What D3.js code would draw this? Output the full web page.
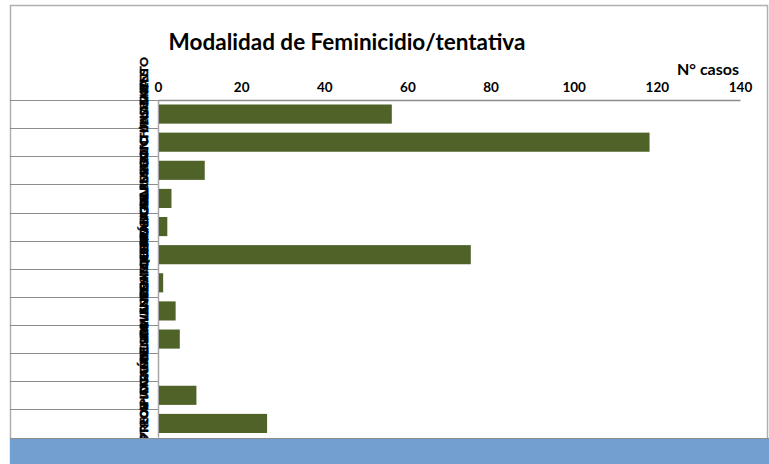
<!DOCTYPE html>
<html>
<head>
<meta charset="utf-8">
<script src="https://cdn.jsdelivr.net/npm/d3@7"></script>
<style>
  html, body { margin: 0; padding: 0; background: #ffffff; }
  svg { display: block; }
  text { font-family: Lato, "Open Sans", sans-serif; }
</style>
</head>
<body>
<svg id="chart" width="769" height="464"></svg>
<script>
const categories = [
  "ACUCHILLAMIENTO",
  "GOLPES CONTUNDENTES",
  "ESTRANGULAMIENTO / ASFIXIA",
  "ARMA DE FUEGO",
  "QUEMADURAS",
  "AGRESIONES FÍSICAS",
  "ENVENENAMIENTO",
  "DEGOLLAMIENTO",
  "ATROPELLAMIENTO",
  "AHOGAMIENTO",
  "PRECIPITACIÓN",
  "OTROS"
];
const casos = [56, 118, 11, 3, 2, 75, 1, 4, 5, 0, 9, 26];
const tickValues = [0, 20, 40, 60, 80, 100, 120, 140];
const titleText = "Modalidad de Feminicidio/tentativa";
const axisTitle = "N° casos";

(function () {
const svg = d3.select("#chart");
const pL = 158, pR = 740, pT = 100, pB = 437.5;

// outer frame
svg.append("rect").attr("x", 10.5).attr("y", 5.5).attr("width", 757).attr("height", 470)
  .attr("fill", "#fff").attr("stroke", "#b0b0b0").attr("stroke-width", 1.5);

const x = d3.scaleLinear().domain([0, 140]).range([pL, pR]);
const y = d3.scaleBand().domain(categories).range([pT, pB]).paddingInner(0.32).paddingOuter(0.16);

// left row separators
const bounds = d3.range(categories.length + 1).map(i => pT + i * (pB - pT) / categories.length);
svg.append("g").selectAll("line").data(bounds).join("line")
  .attr("x1", 10).attr("x2", pL).attr("y1", d => Math.round(d) + 0.5).attr("y2", d => Math.round(d) + 0.5)
  .attr("stroke", "#8c8c8c").attr("stroke-width", 1);

// vertical category axis line
svg.append("line").attr("x1", pL + 0.5).attr("x2", pL + 0.5).attr("y1", pT).attr("y2", pB)
  .attr("stroke", "#a6a6a6").attr("stroke-width", 1.5);

// bars
svg.append("g").selectAll("rect").data(categories).join("rect")
  .attr("x", x(0) + 1)
  .attr("y", d => y(d))
  .attr("width", (d, i) => Math.max(0, x(casos[i]) - x(0)))
  .attr("height", y.bandwidth())
  .attr("fill", "#4f6228");

// top axis
const axis = d3.axisTop(x).tickValues(tickValues).tickSize(0).tickSizeOuter(0).tickPadding(8);
const ag = svg.append("g").attr("transform", `translate(0,${pT})`).call(axis);
ag.select(".domain").attr("stroke", "#8c8c8c").attr("stroke-width", 1.5);
ag.selectAll("text").attr("font-size", 13.5).attr("font-weight", "bold").attr("fill", "#000")
  .attr("font-family", "Lato, sans-serif");

// category labels (rotated, overlapping)
svg.append("g").selectAll("text").data(categories).join("text")
  .attr("transform", d => `translate(148,${y(d) + y.bandwidth() / 2}) rotate(-90)`)
  .attr("text-anchor", "middle")
  .attr("font-size", 12)
  .attr("font-weight", "bold")
  .attr("fill", "#000")
  .attr("stroke", "#000").attr("stroke-width", 0.4)
  .text(d => d);

// title
svg.append("text").attr("x", 347).attr("y", 50).attr("text-anchor", "middle")
  .attr("font-size", 22.5).attr("font-weight", "bold").attr("fill", "#000").text(titleText);

// axis title
svg.append("text").attr("x", 739).attr("y", 75).attr("text-anchor", "end")
  .attr("font-size", 16).attr("font-weight", "bold").attr("fill", "#000").text(axisTitle);

// bottom blue band
svg.append("rect").attr("x", 10).attr("y", 439).attr("width", 759).attr("height", 25).attr("fill", "#729fcf");
svg.append("line").attr("x1", 10).attr("x2", 769).attr("y1", 438.5).attr("y2", 438.5).attr("stroke", "#8c8c8c");
})();
</script>
</body>
</html>
